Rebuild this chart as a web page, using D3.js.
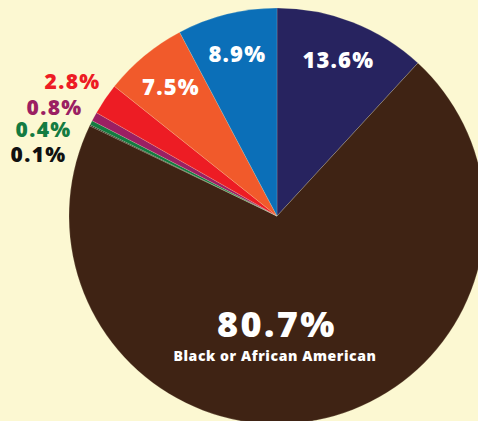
<!DOCTYPE html>
<html>
<head>
<meta charset="utf-8">
<script src="https://cdn.jsdelivr.net/npm/d3@7"></script>
<style>
  html, body { margin: 0; padding: 0; background: #fcf8d2; }
  svg { display: block; }
  text { font-family: "Open Sans", sans-serif; font-weight: 800; }
</style>
</head>
<body>
<div id="chart"></div>
<script>
// slice values (they sum to more than 100, pie normalizes them)
var labels = ["13.6%", "80.7%", "0.1%", "0.4%", "0.8%", "2.8%", "7.5%", "8.9%"];
var values = [13.6, 80.7, 0.1, 0.4, 0.8, 2.8, 7.5, 8.9];
var colors = ["#27235f", "#3f2314", "#111111", "#137b41", "#9b1f63", "#ed1c24", "#f15a2b", "#0b6fb8"];
var mainCaption = "Black or African American";

var width = 478, height = 421;
var cx = 277, cy = 216, radius = 208;

var svg = d3.select("#chart")
  .append("svg")
    .attr("width", width)
    .attr("height", height);

svg.append("rect")
  .attr("width", width)
  .attr("height", height)
  .attr("fill", "#fcf8d2");

var g = svg.append("g")
  .attr("transform", "translate(" + cx + "," + cy + ")");

var pie = d3.pie().sort(null).value(function(d) { return d; });
var arcs = pie(values);

var arc = d3.arc().innerRadius(0).outerRadius(radius);
var labelArc = d3.arc().innerRadius(167).outerRadius(167);

g.selectAll("path")
  .data(arcs)
  .enter()
  .append("path")
    .attr("d", arc)
    .attr("fill", function(d, i) { return colors[i]; })
    .attr("stroke", "#fcf8d2")
    .attr("stroke-opacity", 0.35)
    .attr("stroke-width", 0.5);

// labels inside the big slices
[0, 6, 7].forEach(function(i) {
  var c = labelArc.centroid(arcs[i]);
  g.append("text")
    .attr("x", c[0] + 0.6)
    .attr("y", c[1])
    .attr("dy", "0.36em")
    .attr("text-anchor", "middle")
    .attr("fill", "#ffffff")
    .style("font-size", "22px")
    .style("letter-spacing", "1.2px")
    .text(labels[i]);
});

// stacked labels for the thin slices, outside on the left
var outside = [
  {i: 5, x: 72, y: 81},
  {i: 4, x: 54, y: 107},
  {i: 3, x: 43, y: 129},
  {i: 2, x: 38, y: 154}
];
outside.forEach(function(o) {
  svg.append("text")
    .attr("x", o.x + 0.6)
    .attr("y", o.y)
    .attr("dy", "0.36em")
    .attr("text-anchor", "middle")
    .attr("fill", colors[o.i])
    .style("font-size", "21px")
    .style("letter-spacing", "1.4px")
    .text(labels[o.i]);
});

// main slice label
svg.append("text")
  .attr("x", 277)
  .attr("y", 324)
  .attr("dy", "0.36em")
  .attr("text-anchor", "middle")
  .attr("fill", "#ffffff")
  .style("font-size", "36px")
  .style("letter-spacing", "2.4px")
  .text(labels[1]);

svg.append("text")
  .attr("x", 275)
  .attr("y", 356)
  .attr("dy", "0.36em")
  .attr("text-anchor", "middle")
  .attr("fill", "#ffffff")
  .style("font-size", "14px")
  .style("letter-spacing", "0.6px")
  .text(mainCaption);
</script>
</body>
</html>
